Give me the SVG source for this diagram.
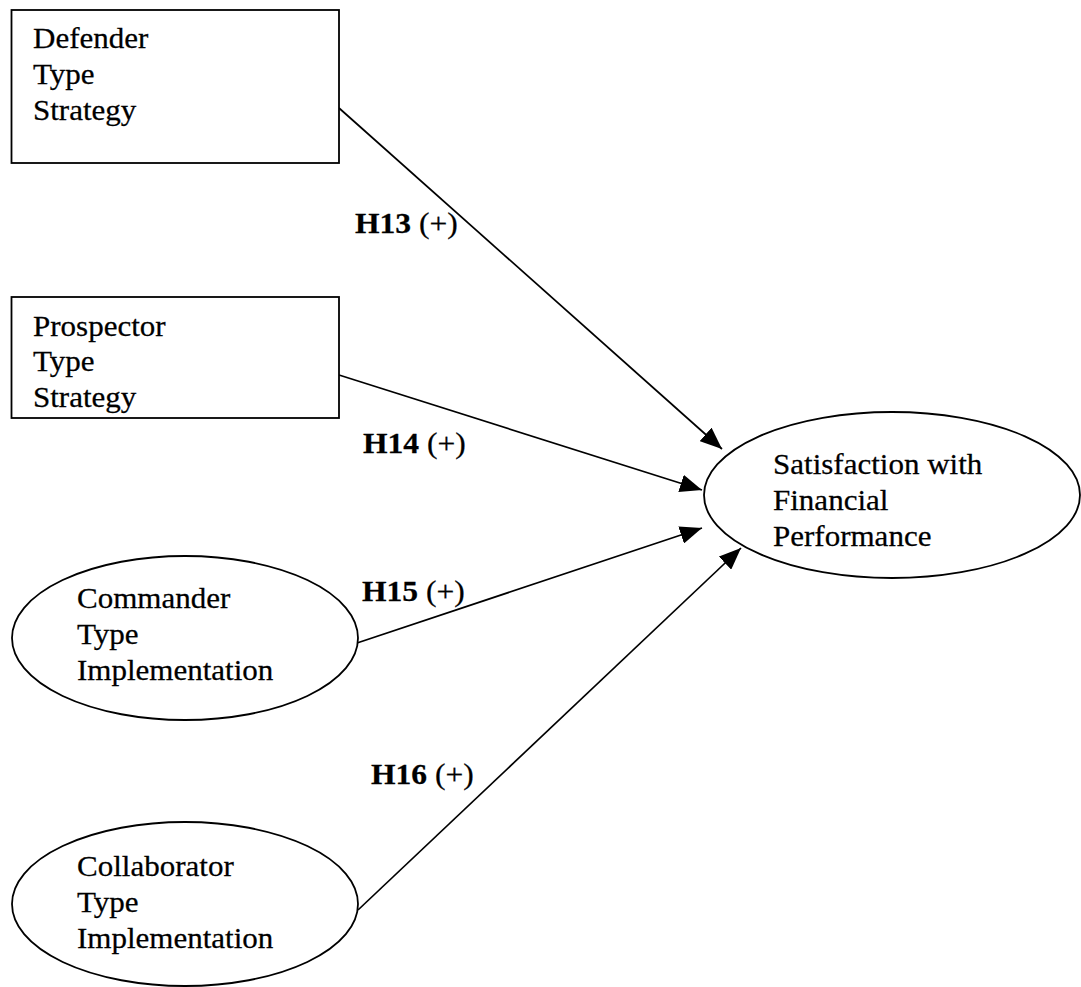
<svg xmlns="http://www.w3.org/2000/svg" width="1081" height="987" viewBox="0 0 1081 987">
  <style>
    .shape { fill: #ffffff; stroke: #000000; stroke-width: 1.8; }
    .label { font-family: "Liberation Serif", "Times New Roman", serif; font-size: 29px; fill: #000000; stroke: #000000; stroke-width: 0.25; }
    .hyp { font-family: "Liberation Serif", "Times New Roman", serif; font-size: 29.5px; fill: #000000; stroke: #000000; stroke-width: 0.25; }
    .hyp .b { font-weight: bold; }
    .edge { stroke: #000000; stroke-width: 1.7; fill: none; marker-end: url(#arrow); }
  </style>
  <defs>
    <marker id="arrow" markerUnits="userSpaceOnUse" markerWidth="24" markerHeight="18" refX="22" refY="9" orient="auto">
      <path d="M0,0 L22,9 L0,18 Z" fill="#000000"/>
    </marker>
  </defs>

  <rect width="1081" height="987" fill="#ffffff"/>

  <!-- arrows into the outcome ellipse, with their hypothesis labels -->
  <g id="connectors">
    <line class="edge" x1="339" y1="108" x2="722" y2="449"/>
    <line class="edge" x1="339" y1="375" x2="702" y2="490"/>
    <line class="edge" x1="357" y1="643" x2="702" y2="528"/>
    <line class="edge" x1="358" y1="910" x2="741" y2="548"/>
    <text class="hyp" transform="matrix(1.07 0 0 1 355 233)"><tspan class="b">H13</tspan> (+)</text>
    <text class="hyp" transform="matrix(1.07 0 0 1 363 453)"><tspan class="b">H14</tspan> (+)</text>
    <text class="hyp" transform="matrix(1.07 0 0 1 362 601)"><tspan class="b">H15</tspan> (+)</text>
    <text class="hyp" transform="matrix(1.07 0 0 1 371 784)"><tspan class="b">H16</tspan> (+)</text>
  </g>

  <g id="defender">
    <rect class="shape" x="11.5" y="10" width="327.5" height="153"/>
    <text class="label" transform="matrix(1.07 0 0 1 33 48)"><tspan x="0" y="0">Defender</tspan><tspan x="0" y="36">Type</tspan><tspan x="0" y="72">Strategy</tspan></text>
  </g>

  <g id="prospector">
    <rect class="shape" x="11.5" y="297" width="327.5" height="121"/>
    <text class="label" transform="matrix(1.07 0 0 1 33 335.5)"><tspan x="0" y="0">Prospector</tspan><tspan x="0" y="36">Type</tspan><tspan x="0" y="72">Strategy</tspan></text>
  </g>

  <g id="commander">
    <ellipse class="shape" cx="185" cy="638" rx="173" ry="82"/>
    <text class="label" transform="matrix(1.07 0 0 1 77 608)"><tspan x="0" y="0">Commander</tspan><tspan x="0" y="36">Type</tspan><tspan x="0" y="72">Implementation</tspan></text>
  </g>

  <g id="collaborator">
    <ellipse class="shape" cx="185" cy="904" rx="173" ry="82"/>
    <text class="label" transform="matrix(1.07 0 0 1 77 876)"><tspan x="0" y="0">Collaborator</tspan><tspan x="0" y="36">Type</tspan><tspan x="0" y="72">Implementation</tspan></text>
  </g>

  <g id="satisfaction">
    <ellipse class="shape" cx="892" cy="495" rx="188" ry="83"/>
    <text class="label" transform="matrix(1.07 0 0 1 773 474)"><tspan x="0" y="0">Satisfaction with</tspan><tspan x="0" y="36">Financial</tspan><tspan x="0" y="72">Performance</tspan></text>
  </g>
</svg>
